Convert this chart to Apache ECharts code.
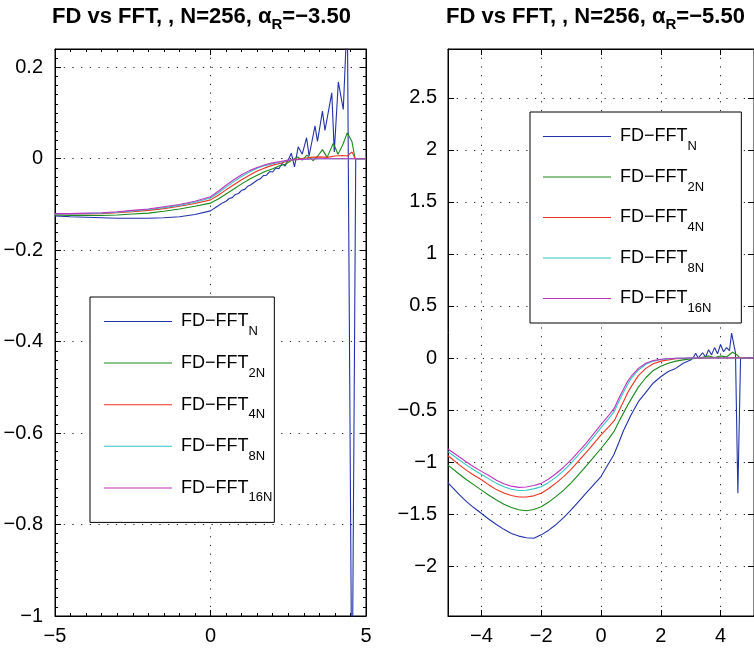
<!DOCTYPE html>
<html><head><meta charset="utf-8">
<script src="https://cdn.jsdelivr.net/npm/echarts@6/dist/echarts.min.js"></script>
<style>html,body{margin:0;padding:0;background:#fff}#c{width:754px;height:648px}</style>
</head><body><div id="c"></div><script>
// ---- data ----
const NAMES = ['N','2N','4N','8N','16N'];
const COLORS = ['#2233aa','#1a8a1a','#ee3322','#33c4c4','#c033c0'];

// left panel (alpha_R = -3.50)
const L_SMOOTH_X = [-5,-4.5,-4,-3.5,-3,-2.5,-2,-1.5,-1,-0.5,0,0.25,0.5,0.75,1,1.25,1.5,1.75,2,2.25,2.5,2.75,3,3.5,4,4.5,5];
const L_16N = [-0.120,-0.120,-0.119,-0.118,-0.116,-0.113,-0.110,-0.105,-0.100,-0.093,-0.083,-0.071,-0.058,-0.046,-0.035,-0.026,-0.019,-0.013,-0.009,-0.006,-0.003,-0.002,-0.001,0,0,0,0];
const L_8N = [-0.121,-0.121,-0.120,-0.119,-0.117,-0.114,-0.111,-0.107,-0.102,-0.095,-0.086,-0.075,-0.062,-0.050,-0.039,-0.029,-0.021,-0.015,-0.011,-0.007,-0.004,-0.002,-0.001,0,0,0,0];
const L_4N_X = [-5,-4.5,-4,-3.5,-3,-2.5,-2,-1.5,-1,-0.5,0,0.25,0.5,0.75,1,1.25,1.5,1.75,2,2.25,2.5,2.75,3,3.25,3.5,3.75,4,4.25,4.4,4.55,4.65,5];
const L_4N = [-0.121,-0.121,-0.121,-0.120,-0.118,-0.116,-0.113,-0.109,-0.104,-0.098,-0.090,-0.080,-0.068,-0.057,-0.046,-0.036,-0.027,-0.020,-0.014,-0.010,-0.005,-0.001,0.001,0.003,0.004,0.003,0.006,0.007,0.006,0.015,0,0];
const L_2N_X = [-5,-4.5,-4,-3.5,-3,-2.5,-2,-1.5,-1,-0.5,0,0.25,0.5,0.75,1,1.25,1.5,1.75,2,2.2,2.4,2.6,2.8,2.95,3.1,3.3,3.45,3.6,3.75,3.95,4.1,4.25,4.4,4.55,4.65,5];
const L_2N = [-0.123,-0.124,-0.124,-0.124,-0.123,-0.121,-0.119,-0.115,-0.110,-0.104,-0.097,-0.088,-0.077,-0.066,-0.055,-0.045,-0.036,-0.028,-0.022,-0.016,-0.012,-0.004,0.004,-0.003,0.008,-0.004,0.006,0.020,0.003,0.034,0.010,0.030,0.057,0.037,0,0];
const L_N_X = [-5,-4.5,-4,-3.5,-3,-2.5,-2,-1.5,-1,-0.5,0,0.2,0.4,0.5,0.6,0.7,0.8,0.9,1.0,1.1,1.2,1.3,1.4,1.5,1.6,1.7,1.8,1.9,2.0,2.1,2.2,2.3,2.4,2.5,2.6,2.7,2.82,2.95,3.09,3.17,3.36,3.44,3.6,3.68,3.9,3.98,4.11,4.27,4.4,4.55,4.67,5];
const L_N = [-0.125,-0.127,-0.128,-0.129,-0.130,-0.130,-0.130,-0.129,-0.127,-0.122,-0.114,-0.105,-0.096,-0.093,-0.087,-0.085,-0.078,-0.076,-0.069,-0.067,-0.060,-0.057,-0.052,-0.047,-0.044,-0.037,-0.036,-0.028,-0.029,-0.020,-0.022,-0.010,-0.016,-0.002,0.012,-0.018,0.026,0.010,0.046,0.006,0.072,0.038,0.104,0.062,0.144,0.015,0.168,0.108,0.32,-1.25,0,0];

// right panel (alpha_R = -5.50)
const R_X = [-5.12,-4.75,-4.5,-4.25,-4,-3.75,-3.5,-3.25,-3,-2.75,-2.5,-2.25,-2,-1.75,-1.5,-1.25,-1,-0.75,-0.5,-0.25,0,0.25,0.45,0.6,0.75,0.9,1,1.25,1.5,1.75,2,2.5,3,3.5,4,4.5,5.12];
const R_16N = [-0.875,-0.95,-1.0,-1.047,-1.09,-1.13,-1.175,-1.208,-1.232,-1.244,-1.240,-1.226,-1.205,-1.163,-1.11,-1.05,-0.98,-0.90,-0.82,-0.73,-0.64,-0.555,-0.48,-0.385,-0.30,-0.22,-0.18,-0.10,-0.05,-0.025,-0.012,-0.003,0,0,0,0,0];
const R_8N = [-0.90,-0.978,-1.03,-1.077,-1.12,-1.162,-1.205,-1.238,-1.262,-1.274,-1.271,-1.258,-1.237,-1.196,-1.145,-1.082,-1.01,-0.93,-0.85,-0.76,-0.67,-0.585,-0.51,-0.415,-0.33,-0.25,-0.20,-0.115,-0.06,-0.03,-0.015,-0.004,-0.001,0,0,0,0];
const R_4N = [-0.94,-1.025,-1.08,-1.127,-1.17,-1.22,-1.265,-1.298,-1.322,-1.336,-1.336,-1.325,-1.30,-1.255,-1.20,-1.14,-1.07,-0.99,-0.91,-0.825,-0.74,-0.665,-0.60,-0.51,-0.42,-0.33,-0.28,-0.17,-0.10,-0.055,-0.03,-0.008,-0.002,0,0.002,0.004,0];
const R_2N_X = [-5.12,-4.75,-4.5,-4.25,-4,-3.75,-3.5,-3.25,-3,-2.75,-2.5,-2.25,-2,-1.75,-1.5,-1.25,-1,-0.75,-0.5,-0.25,0,0.25,0.45,0.6,0.75,0.9,1,1.25,1.5,1.75,2,2.25,2.5,2.75,3,3.3,3.6,3.8,4.0,4.2,4.4,4.55,4.65,5.12];
const R_2N = [-1.03,-1.115,-1.17,-1.22,-1.27,-1.32,-1.365,-1.405,-1.437,-1.458,-1.468,-1.456,-1.43,-1.385,-1.33,-1.27,-1.20,-1.12,-1.04,-0.955,-0.87,-0.78,-0.70,-0.61,-0.53,-0.45,-0.40,-0.28,-0.19,-0.12,-0.08,-0.05,-0.03,-0.018,-0.01,0.0,0.02,0.005,0.02,0.01,0.055,0.03,0,0];
const R_N_X = [-5.12,-4.75,-4.5,-4.25,-4,-3.75,-3.5,-3.25,-3,-2.75,-2.5,-2.25,-2,-1.75,-1.5,-1.25,-1,-0.75,-0.5,-0.25,0,0.2,0.43,0.6,0.75,0.9,1,1.25,1.5,1.75,2,2.25,2.5,2.75,3,3.1,3.17,3.25,3.4,3.5,3.6,3.7,3.8,3.9,4.0,4.1,4.2,4.3,4.37,4.5,4.58,4.67,5.12];
const R_N = [-1.20,-1.31,-1.38,-1.44,-1.495,-1.55,-1.60,-1.647,-1.686,-1.712,-1.728,-1.733,-1.70,-1.655,-1.60,-1.535,-1.46,-1.38,-1.30,-1.22,-1.14,-1.04,-0.93,-0.81,-0.70,-0.61,-0.55,-0.42,-0.33,-0.24,-0.18,-0.13,-0.10,-0.05,-0.02,0.01,0.045,0.0,0.05,0.01,0.08,0.03,0.10,0.04,0.13,0.06,0.10,0.07,0.24,0.05,-1.3,0,0];

// axes / ticks
const L_XRANGE = [-5, 5];
const L_YRANGE = [-1, 0.24];
const R_XRANGE = [-5.12, 5.12];
const R_YRANGE = [-2.48, 2.97];
const R_XTICKS = [-4,-2,0,2,4];
const R_YTICKS = [-2,-1.5,-1,-0.5,0,0.5,1,1.5,2,2.5];
const TITLE_L = '-3.50';
const TITLE_R = '-5.50';

// ---- build ----
const FONT = '"Liberation Sans", Arial, Helvetica, sans-serif';
const minus = v => String(v).replace('-', '\u2212');
const zip = (xs, ys) => xs.map((x, i) => [x, ys[i]]);

const dotted = { show: true, lineStyle: { color: '#222', width: 1, type: [1.2, 7.5] } };
const tickIn = (len) => ({ show: true, inside: true, length: len, lineStyle: { color: '#000', width: 1 } });
const lineBlack = { show: true, onZero: false, lineStyle: { color: '#000', width: 1 } };
const noLine = { show: false, onZero: false };
const lab = { show: true, color: '#000', fontSize: 20, fontFamily: FONT, formatter: minus };

const leftSeries = [[L_N_X, L_N], [L_2N_X, L_2N], [L_4N_X, L_4N], [L_SMOOTH_X, L_8N], [L_SMOOTH_X, L_16N]];
const rightSeries = [[R_N_X, R_N], [R_2N_X, R_2N], [R_X, R_4N], [R_X, R_8N], [R_X, R_16N]];

const series = [];
leftSeries.forEach((s, i) => series.push({
  name: NAMES[i], type: 'line', xAxisIndex: 0, yAxisIndex: 0, data: zip(s[0], s[1]),
  showSymbol: false, symbol: 'none', lineStyle: { width: 1.1, color: COLORS[i] }, itemStyle: { color: COLORS[i] },
  clip: true, silent: true
}));
rightSeries.forEach((s, i) => series.push({
  name: NAMES[i], type: 'line', xAxisIndex: 2, yAxisIndex: 4, data: zip(s[0], s[1]),
  showSymbol: false, symbol: 'none', lineStyle: { width: 1.1, color: COLORS[i] }, itemStyle: { color: COLORS[i] },
  clip: true, silent: true
}));

const rich = {
  m: { fontSize: 18, fontFamily: FONT, color: '#000', lineHeight: 18, padding: [0, 0, 0, 4] },
  s: { fontSize: 13, fontFamily: FONT, color: '#000', lineHeight: 13, padding: [20, 0, 0, 0] }
};
const legendBase = {
  orient: 'vertical', icon: 'rect', itemWidth: 68, itemHeight: 1, selectedMode: false,
  backgroundColor: '#fff', borderColor: '#000', borderWidth: 1, borderRadius: 0,
  itemStyle: { borderWidth: 0 },
  data: NAMES.map((n, i) => ({ name: n, itemStyle: { color: COLORS[i], borderWidth: 0, borderColor: COLORS[i] }, lineStyle: { color: COLORS[i] } })),
  formatter: n => '{m|FD\u2212FFT}{s|' + n + '}', textStyle: { rich: rich }
};

const titleRich = {
  t: { fontSize: 22, fontWeight: 'bold', fontFamily: FONT, color: '#000', lineHeight: 22 },
  a: { fontSize: 22, fontFamily: FONT, color: '#000', lineHeight: 22 },
  r: { fontSize: 15, fontWeight: 'bold', fontFamily: FONT, color: '#000', lineHeight: 15, padding: [16, 0, 0, 0] }
};
const titleText = v => '{t|FD vs FFT, , N=256, }{a|\u03b1}{r|R}{t|=' + minus(v) + '}';

const option = {
  animation: false,
  backgroundColor: '#fff',
  color: COLORS,
  title: [
    { text: titleText(TITLE_L), left: 52, top: 6, padding: 0, textStyle: { rich: titleRich } },
    { text: titleText(TITLE_R), left: 446, top: 6, padding: 0, textStyle: { rich: titleRich } }
  ],
  legend: [
    Object.assign({}, legendBase, { left: 90, top: 297, itemGap: 8.6, padding: [8, 2, 18, 14] }),
    Object.assign({}, legendBase, { left: 530, top: 112, itemGap: 7.5, padding: [8, 30, 8, 13] })
  ],
  grid: [
    { left: 55, right: 388, top: 49, bottom: 32, show: true, borderColor: '#000', borderWidth: 1, backgroundColor: 'transparent' },
    { left: 448, right: -14, top: 49, bottom: 32, show: true, borderColor: '#000', borderWidth: 1, backgroundColor: 'transparent' }
  ],
  xAxis: [
    { gridIndex: 0, type: 'value', position: 'bottom', min: L_XRANGE[0], max: L_XRANGE[1], interval: 5,
      axisLine: lineBlack, axisTick: tickIn(6), minorTick: { show: true, splitNumber: 10, length: 3, lineStyle: { color: '#000' } },
      axisLabel: Object.assign({}, lab, { margin: 10 }), splitLine: dotted },
    { gridIndex: 0, type: 'value', position: 'top', min: L_XRANGE[0], max: L_XRANGE[1], interval: 5,
      axisLine: lineBlack, axisTick: tickIn(6), minorTick: { show: true, splitNumber: 10, length: 3, lineStyle: { color: '#000' } },
      axisLabel: { show: false }, splitLine: { show: false } },
    { gridIndex: 1, type: 'value', position: 'bottom', min: R_XRANGE[0], max: R_XRANGE[1],
      axisLine: lineBlack, axisTick: Object.assign(tickIn(6), { customValues: R_XTICKS }),
      axisLabel: Object.assign({}, lab, { margin: 10, customValues: R_XTICKS }), splitLine: dotted },
    { gridIndex: 1, type: 'value', position: 'top', min: R_XRANGE[0], max: R_XRANGE[1],
      axisLine: lineBlack, axisTick: Object.assign(tickIn(6), { customValues: R_XTICKS }),
      axisLabel: { show: false, customValues: R_XTICKS }, splitLine: { show: false } }
  ],
  yAxis: [
    { gridIndex: 0, type: 'value', position: 'left', min: L_YRANGE[0], max: L_YRANGE[1], interval: 0.2,
      axisLine: lineBlack, axisTick: tickIn(6),
      axisLabel: Object.assign({}, lab, { margin: 12, formatter: v => (Math.abs(v * 5 - Math.round(v * 5)) < 1e-6 ? minus(+v.toFixed(1)) : '') }),
      splitLine: dotted },
    { gridIndex: 0, type: 'value', position: 'left', min: L_YRANGE[0], max: L_YRANGE[1], interval: 0.02,
      axisLine: noLine, axisTick: tickIn(3), axisLabel: { show: false }, splitLine: { show: false } },
    { gridIndex: 0, type: 'value', position: 'right', min: L_YRANGE[0], max: L_YRANGE[1], interval: 0.2,
      axisLine: lineBlack, axisTick: tickIn(6), axisLabel: { show: false }, splitLine: { show: false } },
    { gridIndex: 0, type: 'value', position: 'right', min: L_YRANGE[0], max: L_YRANGE[1], interval: 0.02,
      axisLine: noLine, axisTick: tickIn(3), axisLabel: { show: false }, splitLine: { show: false } },
    { gridIndex: 1, type: 'value', position: 'left', min: R_YRANGE[0], max: R_YRANGE[1],
      axisLine: lineBlack, axisTick: Object.assign(tickIn(6), { customValues: R_YTICKS }),
      axisLabel: Object.assign({}, lab, { margin: 11, customValues: R_YTICKS }), splitLine: dotted },
    { gridIndex: 1, type: 'value', position: 'right', min: R_YRANGE[0], max: R_YRANGE[1],
      axisLine: lineBlack, axisTick: Object.assign(tickIn(6), { customValues: R_YTICKS }),
      axisLabel: { show: false, customValues: R_YTICKS }, splitLine: { show: false } }
  ],
  series: series
};

const chart = echarts.init(document.getElementById('c'), null, { renderer: 'canvas' });
chart.setOption(option);
</script></body></html>
